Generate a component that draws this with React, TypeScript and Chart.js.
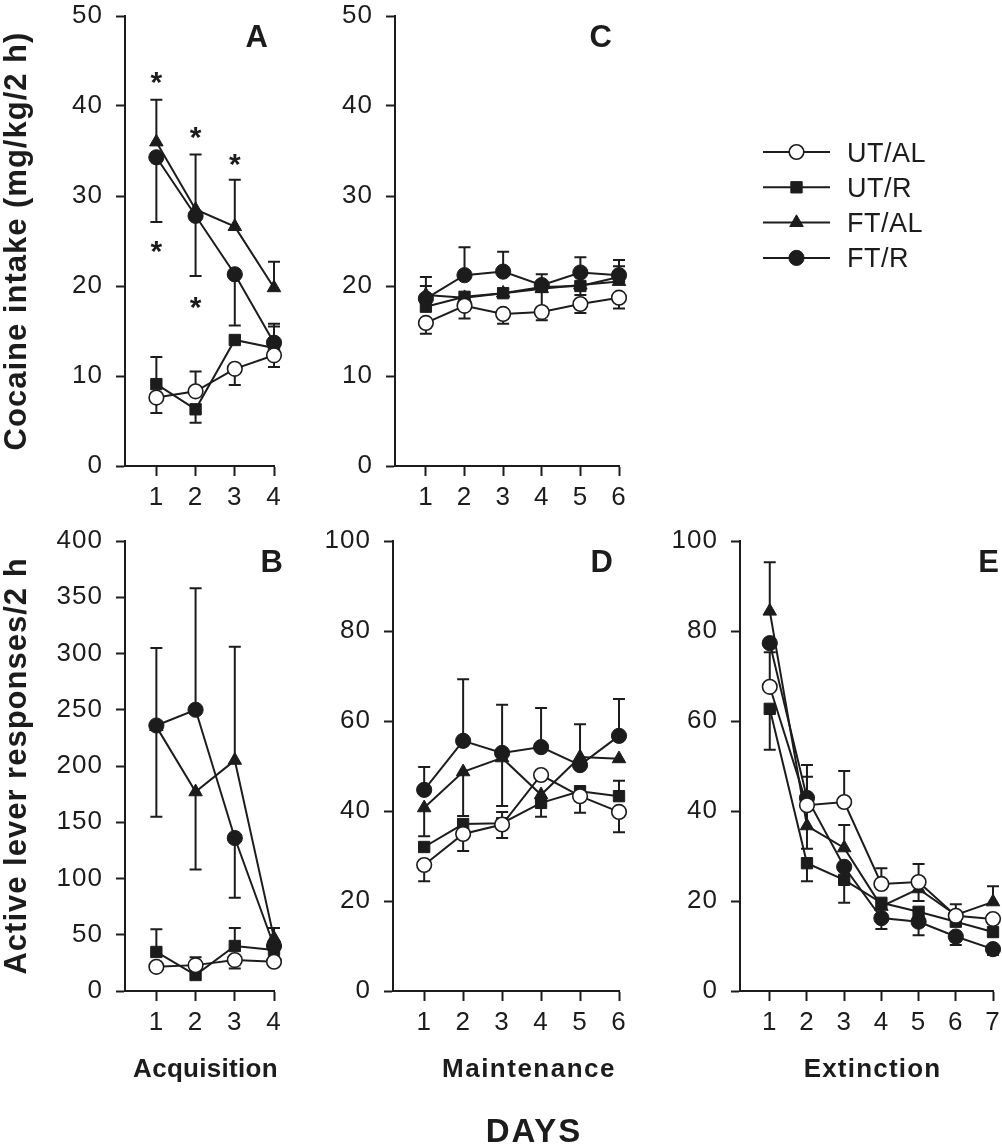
import React, { useEffect, useRef } from 'react';
import { Chart, registerables } from 'chart.js';
import { drawPoint } from 'chart.js/helpers';

Chart.register(...registerables);

const W = 1002;
const H = 1144;
const FONT = "'Liberation Sans', Arial, Helvetica, sans-serif";
const INK = '#1c1c1c';

// ---------- data ----------
const GROUPS = ['UT/AL', 'UT/R', 'FT/AL', 'FT/R'];
const ACQ_DAYS = [1, 2, 3, 4];
const MAINT_DAYS = [1, 2, 3, 4, 5, 6];
const EXT_DAYS = [1, 2, 3, 4, 5, 6, 7];

// Panel A: cocaine intake, acquisition
const A_UTAL = [7.6, 8.3, 10.8, 12.3];
const A_UTAL_HI = [null, 10.5, null, null];
const A_UTAL_LO = [5.9, null, 9.0, 11.0];
const A_UTR = [9.1, 6.3, 14.0, 13.1];
const A_UTR_HI = [12.1, null, null, 15.5];
const A_UTR_LO = [null, 4.8, null, null];
const A_FTAL = [36.0, 28.5, 26.6, 19.8];
const A_FTAL_HI = [40.7, 34.6, 31.8, 22.7];
const A_FTAL_LO = [null, null, null, null];
const A_FTR = [34.3, 27.8, 21.3, 13.7];
const A_FTR_HI = [null, null, null, 15.8];
const A_FTR_LO = [27.1, 21.1, 15.6, null];
const A_STARS_X = [1, 1, 2, 2, 3];
const A_STARS_Y = [43.1, 24.3, 37.0, 18.1, 34.0];

// Panel C: cocaine intake, maintenance
const C_UTAL = [15.9, 17.8, 16.9, 17.1, 18.0, 18.7];
const C_UTAL_HI = [null, null, null, null, null, null];
const C_UTAL_LO = [14.7, 16.4, 15.8, 16.2, 17.0, 17.5];
const C_UTR = [17.7, 18.8, 19.2, 19.9, 20.0, 21.0];
const C_UTR_HI = [null, null, null, null, null, 22.2];
const C_UTR_LO = [null, null, null, null, null, null];
const C_FTAL = [19.0, 18.7, 19.2, 19.7, 20.1, 20.5];
const C_FTAL_HI = [20.0, null, null, null, null, null];
const C_FTAL_LO = [null, null, null, 17.6, 19.0, null];
const C_FTR = [18.6, 21.2, 21.6, 20.1, 21.5, 21.2];
const C_FTR_HI = [21.0, 24.3, 23.8, 21.3, 23.2, 22.9];
const C_FTR_LO = [null, null, null, null, null, null];

// Panel B: active lever responses, acquisition
const B_UTAL = [21.5, 23, 27.5, 26];
const B_UTAL_HI = [null, 30, null, null];
const B_UTAL_LO = [null, null, 20, null];
const B_UTR = [34.7, 14.2, 40, 36.5];
const B_UTR_HI = [55, null, 56, null];
const B_UTR_LO = [null, null, null, null];
const B_FTAL = [235, 177, 205, 47];
const B_FTAL_HI = [null, null, 306, 56];
const B_FTAL_LO = [155, 108, null, null];
const B_FTR = [236, 250, 136, 40];
const B_FTR_HI = [305, 358, null, null];
const B_FTR_LO = [null, null, 83, null];

// Panel D: active lever responses, maintenance
const D_UTAL = [28, 34.9, 37.0, 48, 43.3, 39.8];
const D_UTAL_HI = [null, null, null, null, null, null];
const D_UTAL_LO = [24.4, 31.1, 34, null, 39.6, 35.3];
const D_UTR = [32, 37.1, 37.3, 41.8, 44.4, 43.3];
const D_UTR_HI = [null, null, 39.8, null, null, 46.7];
const D_UTR_LO = [null, null, null, 38.7, null, null];
const D_FTAL = [40.7, 48.7, 51.8, 43.6, 52, 51.6];
const D_FTAL_HI = [null, null, null, null, null, null];
const D_FTAL_LO = [34.4, 38.9, 41.1, null, null, null];
const D_FTR = [44.7, 55.6, 52.9, 54.2, 50.2, 56.7];
const D_FTR_HI = [49.8, 69.3, 63.6, 62.9, 59.3, 64.9];
const D_FTR_LO = [null, null, null, null, null, null];

// Panel E: active lever responses, extinction
const E_UTAL = [67.6, 41.3, 42, 23.8, 24.2, 16.7, 16.0];
const E_UTAL_HI = [75.3, null, 48.9, 27.3, 28.2, null, null];
const E_UTAL_LO = [null, null, null, null, null, null, null];
const E_UTR = [62.7, 28.4, 24.7, 19.6, 17.6, 15.4, 13.1];
const E_UTR_HI = [null, null, null, null, null, null, null];
const E_UTR_LO = [53.6, 24.4, 19.6, null, null, null, null];
const E_FTAL = [84.4, 36.7, 31.8, 18.8, 22.7, 16.9, 19.8];
const E_FTAL_HI = [95.3, 47.6, 36.9, null, null, 19.3, 23.3];
const E_FTAL_LO = [null, 31.6, null, null, 20.0, null, null];
const E_FTR = [77.3, 42.9, 27.6, 16.2, 15.4, 12.1, 9.3];
const E_FTR_HI = [null, 50.2, null, null, null, null, null];
const E_FTR_LO = [null, null, null, 13.8, 12.4, 10.2, 8.0];

// ---------- styles ----------
const MARKERS = [
  { style: 'circle', radius: 7.3, fill: '#ffffff', bw: 1.6 },
  { style: 'rect', radius: 8, fill: INK, bw: 1 },
  { style: 'triangle', radius: 7.8, fill: INK, bw: 1 },
  { style: 'circle', radius: 7.6, fill: INK, bw: 1 },
];

type Series = { vals: number[]; hi: (number | null)[]; lo: (number | null)[] };
type PanelDef = {
  letter: string;
  letterDx: number;
  days: number[];
  series: Series[];
  yMax: number;
  yStep: number;
  area: { left: number; top: number; right: number; bottom: number };
  yAxisW: number;
  yTitle?: string;
  xTitle?: string;
  xTitleDx?: number;
  xTitleSpacing?: number;
  starsX?: number[];
  starsY?: number[];
  legend?: boolean;
  footer?: string;
};

const X_AXIS_H = 50;
const X_MIN = 0.2;

const PANELS: PanelDef[] = [
  {
    letter: 'A', letterDx: -6, days: ACQ_DAYS, yMax: 50, yStep: 10,
    area: { left: 125, top: 16, right: 274, bottom: 466 }, yAxisW: 125,
    yTitle: 'Cocaine intake (mg/kg/2 h)',
    starsX: A_STARS_X, starsY: A_STARS_Y,
    series: [
      { vals: A_UTAL, hi: A_UTAL_HI, lo: A_UTAL_LO },
      { vals: A_UTR, hi: A_UTR_HI, lo: A_UTR_LO },
      { vals: A_FTAL, hi: A_FTAL_HI, lo: A_FTAL_LO },
      { vals: A_FTR, hi: A_FTR_HI, lo: A_FTR_LO },
    ],
  },
  {
    letter: 'C', letterDx: -7, days: MAINT_DAYS, yMax: 50, yStep: 10,
    area: { left: 395, top: 16, right: 619, bottom: 466 }, yAxisW: 70,
    legend: true,
    series: [
      { vals: C_UTAL, hi: C_UTAL_HI, lo: C_UTAL_LO },
      { vals: C_UTR, hi: C_UTR_HI, lo: C_UTR_LO },
      { vals: C_FTAL, hi: C_FTAL_HI, lo: C_FTAL_LO },
      { vals: C_FTR, hi: C_FTR_HI, lo: C_FTR_LO },
    ],
  },
  {
    letter: 'B', letterDx: 9, days: ACQ_DAYS, yMax: 400, yStep: 50,
    area: { left: 125, top: 541, right: 274, bottom: 991 }, yAxisW: 125,
    yTitle: 'Active lever responses/2 h',
    xTitle: 'Acquisition', xTitleDx: 6, xTitleSpacing: 0.3,
    series: [
      { vals: B_UTAL, hi: B_UTAL_HI, lo: B_UTAL_LO },
      { vals: B_UTR, hi: B_UTR_HI, lo: B_UTR_LO },
      { vals: B_FTAL, hi: B_FTAL_HI, lo: B_FTAL_LO },
      { vals: B_FTR, hi: B_FTR_HI, lo: B_FTR_LO },
    ],
  },
  {
    letter: 'D', letterDx: -6, days: MAINT_DAYS, yMax: 100, yStep: 20,
    area: { left: 393, top: 541, right: 619, bottom: 991 }, yAxisW: 70,
    xTitle: 'Maintenance', xTitleDx: 23, xTitleSpacing: 1.5, footer: 'DAYS',
    series: [
      { vals: D_UTAL, hi: D_UTAL_HI, lo: D_UTAL_LO },
      { vals: D_UTR, hi: D_UTR_HI, lo: D_UTR_LO },
      { vals: D_FTAL, hi: D_FTAL_HI, lo: D_FTAL_LO },
      { vals: D_FTR, hi: D_FTR_HI, lo: D_FTR_LO },
    ],
  },
  {
    letter: 'E', letterDx: 6, days: EXT_DAYS, yMax: 100, yStep: 20,
    area: { left: 740, top: 541, right: 994, bottom: 991 }, yAxisW: 70,
    xTitle: 'Extinction', xTitleDx: 6, xTitleSpacing: 1.2,
    series: [
      { vals: E_UTAL, hi: E_UTAL_HI, lo: E_UTAL_LO },
      { vals: E_UTR, hi: E_UTR_HI, lo: E_UTR_LO },
      { vals: E_FTAL, hi: E_FTAL_HI, lo: E_FTAL_LO },
      { vals: E_FTR, hi: E_FTR_HI, lo: E_FTR_LO },
    ],
  },
];

const LEGEND_X0 = 763;
const LEGEND_X1 = 830;
const LEGEND_TEXT_X = 847;
const LEGEND_Y0 = 152;
const LEGEND_DY = 35.3;
const DAYS_X = 534;
const DAYS_DY = 139;

// ---------- helpers ----------
function centeredText(ctx: CanvasRenderingContext2D, text: string, x: number, cy: number, align: CanvasTextAlign, ref?: string) {
  ctx.textAlign = align;
  ctx.textBaseline = 'alphabetic';
  const m = ctx.measureText(ref || text);
  ctx.fillText(text, x, cy + (m.actualBoundingBoxAscent - m.actualBoundingBoxDescent) / 2);
}

const spacingPlugin = {
  id: 'spacing',
  beforeDraw(chart: any) {
    (chart.ctx as any).letterSpacing = '1px';
  },
};

const CAP = 6;
const errorBarPlugin = {
  id: 'errorBars',
  beforeDatasetsDraw(chart: any) {
    const ctx = chart.ctx as CanvasRenderingContext2D;
    const xs = chart.scales.x;
    const ys = chart.scales.y;
    ctx.save();
    ctx.strokeStyle = INK;
    ctx.lineWidth = 2;
    chart.data.datasets.forEach((ds: any) => {
      ds.data.forEach((pt: any, j: number) => {
        const px = xs.getPixelForValue(pt.x);
        const py = ys.getPixelForValue(pt.y);
        [ds.errHi?.[j], ds.errLo?.[j]].forEach((v: number | null | undefined) => {
          if (v == null) return;
          const ey = ys.getPixelForValue(v);
          ctx.beginPath();
          ctx.moveTo(px, py);
          ctx.lineTo(px, ey);
          ctx.moveTo(px - CAP, ey);
          ctx.lineTo(px + CAP, ey);
          ctx.stroke();
        });
      });
    });
    ctx.restore();
  },
};

function decorPlugin(p: PanelDef) {
  return {
    id: 'decor',
    afterDraw(chart: any) {
      const ctx = chart.ctx as CanvasRenderingContext2D;
      const a = chart.chartArea;
      const xs = chart.scales.x;
      const ys = chart.scales.y;
      ctx.save();
      ctx.fillStyle = INK;
      (ctx as any).letterSpacing = '0px';
      ctx.font = `bold 31px ${FONT}`;
      centeredText(ctx, p.letter, a.right + p.letterDx, a.top + 20, 'right');

      if (p.starsX && p.starsY) {
        ctx.font = `bold 30px ${FONT}`;
        p.starsX.forEach((x, k) => {
          centeredText(ctx, '*', xs.getPixelForValue(x), ys.getPixelForValue(p.starsY![k]), 'center');
        });
      }

      if (p.xTitle) {
        (ctx as any).letterSpacing = `${p.xTitleSpacing ?? 1.5}px`;
        ctx.font = `bold 26px ${FONT}`;
        centeredText(ctx, p.xTitle, (a.left + a.right) / 2 + (p.xTitleDx || 0), a.bottom + 77, 'center', 'H');
      }

      if (p.footer) {
        (ctx as any).letterSpacing = '2px';
        ctx.font = `bold 33px ${FONT}`;
        centeredText(ctx, p.footer, DAYS_X, a.bottom + DAYS_DY, 'center', 'H');
      }

      if (p.legend) {
        (ctx as any).letterSpacing = '0.5px';
        GROUPS.forEach((g, i) => {
          const y = LEGEND_Y0 + i * LEGEND_DY;
          ctx.strokeStyle = INK;
          ctx.lineWidth = 2;
          ctx.beginPath();
          ctx.moveTo(LEGEND_X0, y);
          ctx.lineTo(LEGEND_X1, y);
          ctx.stroke();
          const mk = MARKERS[i];
          ctx.fillStyle = mk.fill;
          ctx.strokeStyle = INK;
          ctx.lineWidth = mk.bw;
          drawPoint(ctx, { pointStyle: mk.style as any, radius: mk.radius, borderWidth: mk.bw, rotation: 0 } as any, (LEGEND_X0 + LEGEND_X1) / 2, y);
          ctx.fillStyle = INK;
          ctx.font = `27px ${FONT}`;
          centeredText(ctx, g, LEGEND_TEXT_X, y, 'left', 'H');
        });
      }
      ctx.restore();
    },
  };
}

function buildConfig(p: PanelDef): any {
  const a = p.area;
  const tickFont = { family: FONT, size: 26 };
  return {
    type: 'line',
    data: {
      datasets: p.series.map((s, i) => ({
        label: GROUPS[i],
        data: p.days.map((d, j) => ({ x: d, y: s.vals[j] })),
        errHi: s.hi,
        errLo: s.lo,
        borderColor: INK,
        borderWidth: 2,
        backgroundColor: MARKERS[i].fill,
        pointStyle: MARKERS[i].style,
        pointRadius: MARKERS[i].radius,
        pointHoverRadius: MARKERS[i].radius,
        pointBackgroundColor: MARKERS[i].fill,
        pointBorderColor: INK,
        pointBorderWidth: MARKERS[i].bw,
        tension: 0,
        fill: false,
        clip: false,
      })),
    },
    options: {
      responsive: false,
      animation: false,
      events: [],
      layout: {
        padding: {
          left: a.left - p.yAxisW,
          top: a.top,
          right: W - a.right,
          bottom: H - a.bottom - X_AXIS_H,
        },
      },
      plugins: {
        legend: { display: false },
        tooltip: { enabled: false },
        title: { display: false },
      },
      scales: {
        x: {
          type: 'linear',
          min: X_MIN,
          max: p.days[p.days.length - 1],
          afterBuildTicks: (s: any) => {
            s.ticks = p.days.map((v) => ({ value: v }));
          },
          afterFit: (s: any) => {
            s.height = X_AXIS_H;
            s.paddingLeft = 0;
            s.paddingRight = 0;
          },
          grid: { drawOnChartArea: false, drawTicks: true, tickLength: 10, tickWidth: 2, tickColor: INK },
          border: { display: true, color: INK, width: 2 },
          ticks: { font: tickFont, color: INK, padding: 6, maxRotation: 0, autoSkip: false },
        },
        y: {
          type: 'linear',
          min: 0,
          max: p.yMax,
          afterFit: (s: any) => {
            s.width = p.yAxisW;
            s.paddingTop = 0;
            s.paddingBottom = 0;
          },
          grid: { drawOnChartArea: false, drawTicks: true, tickLength: 9, tickWidth: 2, tickColor: INK },
          border: { display: true, color: INK, width: 2 },
          ticks: { stepSize: p.yStep, font: tickFont, color: INK, padding: 13 },
          title: p.yTitle
            ? {
                display: true,
                text: p.yTitle,
                color: INK,
                font: { family: FONT, size: 31, weight: 'bold', lineHeight: 1.1 },
                padding: 0,
              }
            : { display: false },
        },
      },
    },
    plugins: [spacingPlugin, errorBarPlugin, decorPlugin(p)],
  };
}

function PanelChart({ panel }: { panel: PanelDef }) {
  const ref = useRef<HTMLCanvasElement>(null);
  useEffect(() => {
    const chart = new Chart(ref.current as HTMLCanvasElement, buildConfig(panel));
    return () => chart.destroy();
  }, [panel]);
  return (
    <canvas
      ref={ref}
      width={W}
      height={H}
      style={{ position: 'absolute', left: 0, top: 0, width: W, height: H }}
    />
  );
}

export default function App() {
  return (
    <div style={{ position: 'absolute', left: 0, top: 0, width: W, height: H, background: '#ffffff' }}>
      {PANELS.map((p) => (
        <PanelChart key={p.letter} panel={p} />
      ))}
    </div>
  );
}
